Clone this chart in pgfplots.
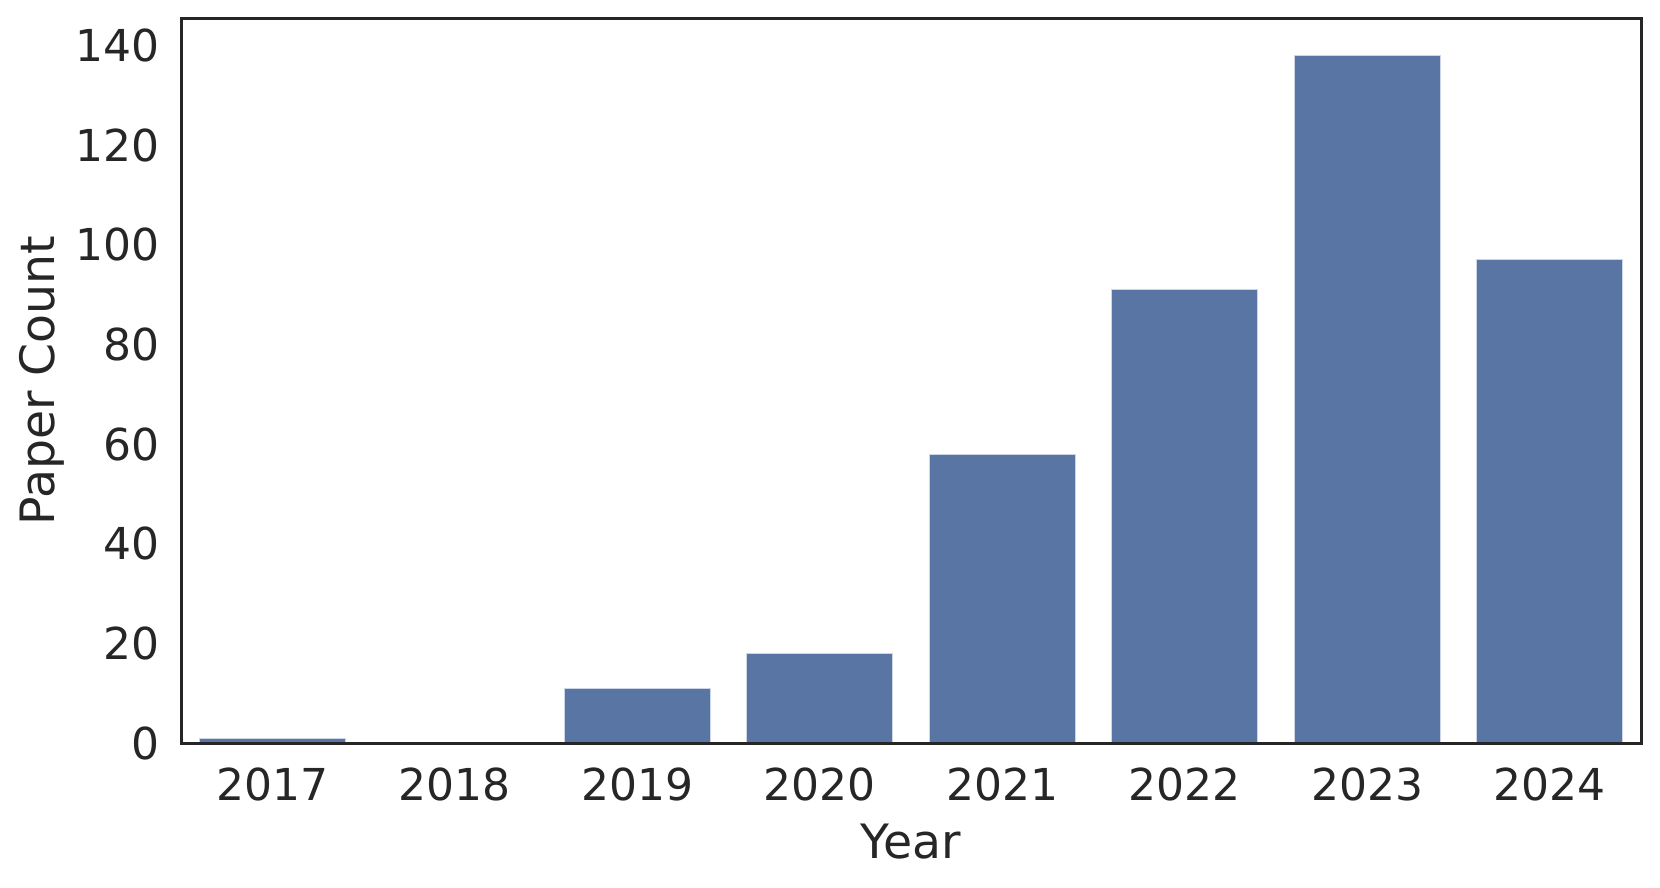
\documentclass[border=0pt]{standalone}
\usepackage{fontspec}
\setmainfont{DejaVu Sans}
\usepackage{pgfplots}
\pgfplotsset{compat=1.18}
\definecolor{barblue}{HTML}{5975A4}
\definecolor{axisgray}{HTML}{262626}
\begin{document}
\begin{tikzpicture}
\begin{axis}[
  scale only axis,
  width=438pt, height=217.5pt,
  xmin=-0.5, xmax=7.5,
  ymin=0, ymax=145.5,
  xtick={0,1,2,3,4,5,6,7},
  xticklabels={2017,2018,2019,2020,2021,2022,2023,2024},
  ytick={0,20,40,60,80,100,120,140},
  major tick length=0pt,
  axis line style={axisgray, line width=0.9pt},
  tick label style={font=\fontsize{13.2}{15}\selectfont, text=axisgray},
  label style={font=\fontsize{14.2}{16}\selectfont, text=axisgray},
  /pgf/number format/assume math mode=true,
  xticklabel style={yshift=-4pt},
  yticklabel style={xshift=-3pt},
  xlabel={Year},
  ylabel={Paper Count},
  xlabel style={yshift=0pt},
  ylabel style={yshift=-3.5pt},
  ybar, bar width=0.8,
  axis on top,
]
\addplot[fill=barblue, draw=white!70!barblue, line width=0.3pt] coordinates {
(0,1) (1,0) (2,11) (3,18) (4,58) (5,91) (6,138) (7,97)
};
\end{axis}
\pgfresetboundingbox
\useasboundingbox ([xshift=-54.3pt,yshift=-43.2pt]current axis.south west) rectangle ([xshift=5.7pt,yshift=5.4pt]current axis.north east);
\end{tikzpicture}
\end{document}
